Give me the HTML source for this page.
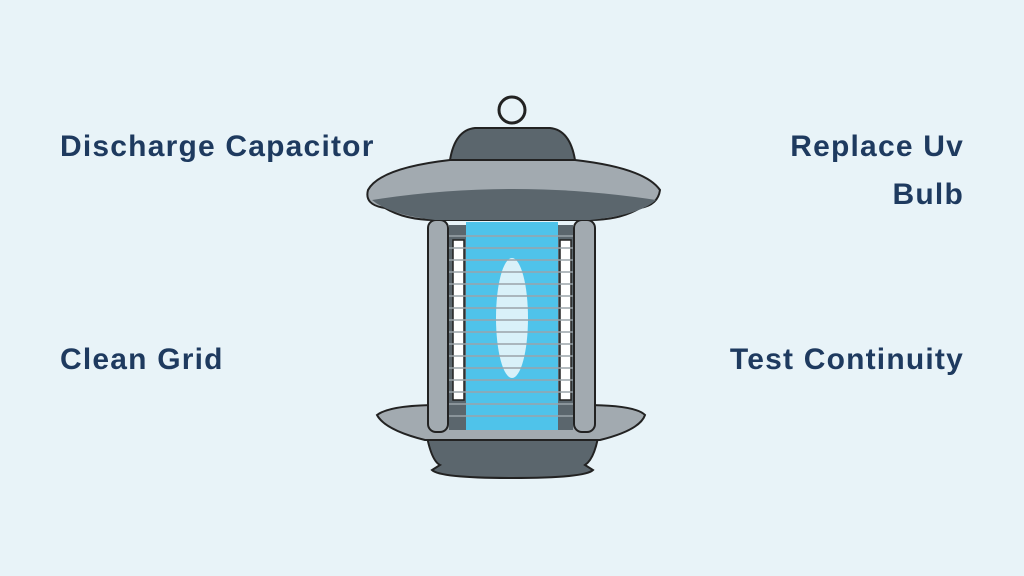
<!DOCTYPE html>
<html><head><style>
body{margin:0;width:1024px;height:576px;background:#e8f3f8;position:relative;overflow:hidden;font-family:"Liberation Sans",sans-serif}
.t{position:absolute;font-weight:bold;font-size:30px;letter-spacing:1.2px;color:#1e3a5f;line-height:1;white-space:nowrap}
</style></head><body>
<div class="t" style="left:60px;top:132px">Discharge Capacitor</div>
<div class="t" style="right:60px;top:132px">Replace Uv</div>
<div class="t" style="right:60px;top:180px">Bulb</div>
<div class="t" style="left:60px;top:345px">Clean Grid</div>
<div class="t" style="right:60px;top:345px">Test Continuity</div>
<svg width="1024" height="576" style="position:absolute;left:0;top:0">
<g stroke="#222" stroke-width="2">
<circle cx="512" cy="110" r="13" fill="none" stroke-width="3"/>
<path d="M425 425 Q430 460 440 465 L432 470 Q440 478 512 478 Q585 478 593 470 L585 465 Q596 458 600 425 Z" fill="#5b666d"/>
<path d="M377 415 Q390 405 440 405 L585 405 Q635 405 645 415 Q640 430 600 440 L425 440 Q385 430 377 415 Z" fill="#a2aab0"/>
<rect x="428" y="220" width="20" height="212" rx="8" fill="#a2aab0"/>
<rect x="574" y="220" width="21" height="212" rx="8" fill="#a2aab0"/>
<rect x="449" y="225" width="124" height="205" fill="#5b666d" stroke="none"/>
<rect x="453" y="240" width="11" height="160" fill="#fff" stroke="#222" stroke-width="1.5"/>
<rect x="560" y="240" width="11" height="160" fill="#fff" stroke="#222" stroke-width="1.5"/>
<rect x="466" y="222" width="92" height="208" fill="#4fc3ea" stroke="none"/>
<ellipse cx="512" cy="318" rx="16" ry="60" fill="#e8f6fb" stroke="none" opacity="0.9"/>
<path d="M450 160 Q455 130 475 128 L550 128 Q570 130 575 160 Z" fill="#5b666d"/>
<path d="M368 190 Q380 168 450 160 L575 160 Q645 168 660 190 Q658 205 640 208 Q620 220 590 220 L435 220 Q405 220 385 208 Q364 205 368 190 Z" fill="#a2aab0"/>
<path d="M372 200 Q512 178 656 200 Q640 215 590 220 L435 220 Q390 215 372 200 Z" fill="#5b666d" stroke="none"/>
</g>
<g stroke="#9aa3a9" stroke-width="1.5">
<line x1="449" y1="236" x2="573" y2="236"/><line x1="449" y1="248" x2="573" y2="248"/>
<line x1="449" y1="260" x2="573" y2="260"/><line x1="449" y1="272" x2="573" y2="272"/>
<line x1="449" y1="284" x2="573" y2="284"/><line x1="449" y1="296" x2="573" y2="296"/>
<line x1="449" y1="308" x2="573" y2="308"/><line x1="449" y1="320" x2="573" y2="320"/>
<line x1="449" y1="332" x2="573" y2="332"/><line x1="449" y1="344" x2="573" y2="344"/>
<line x1="449" y1="356" x2="573" y2="356"/><line x1="449" y1="368" x2="573" y2="368"/>
<line x1="449" y1="380" x2="573" y2="380"/><line x1="449" y1="392" x2="573" y2="392"/>
<line x1="449" y1="404" x2="573" y2="404"/><line x1="449" y1="416" x2="573" y2="416"/>
</g>
</svg>
</body></html>
